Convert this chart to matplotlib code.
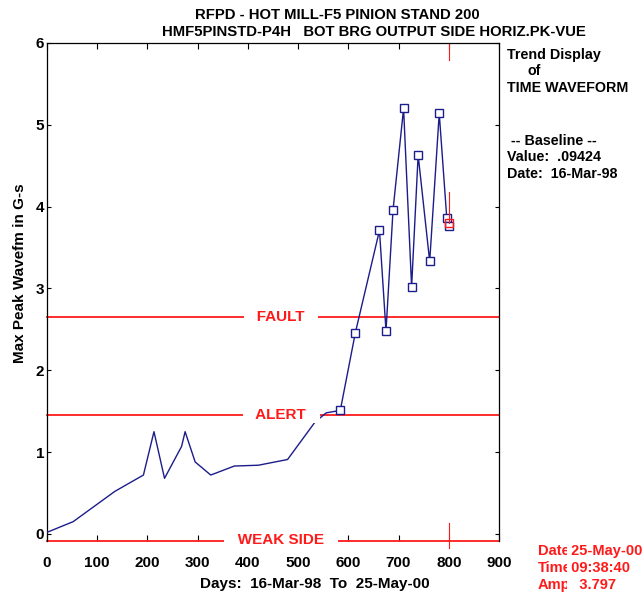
import matplotlib
matplotlib.use("Agg")
import matplotlib.pyplot as plt

plt.rcParams["font.family"] = ["Liberation Sans", "DejaVu Sans"]
plt.rcParams["font.weight"] = "bold"

# Trend values (days since 16-Mar-98, max peak in G-s)
days = [0, 52, 135, 192, 213, 234, 268, 275, 295, 326, 373, 421, 479, 534, 556,
        584, 614, 662, 675, 689, 710, 726, 739, 762, 781, 796, 801]
amps = [0.02, 0.15, 0.52, 0.72, 1.25, 0.68, 1.07, 1.25, 0.88, 0.72, 0.83, 0.84,
        0.91, 1.37, 1.48, 1.51, 2.46, 3.71, 2.48, 3.96, 5.20, 3.02, 4.63, 3.33,
        5.14, 3.86, 3.76]
first_marked = 15  # points from here on carry a marker

alarm_names = ["FAULT", "ALERT", "WEAK SIDE"]
alarm_levels = [2.65, 1.45, -0.08]

cursor_day = 801
cursor_amp = 3.797

navy = "#1c1c8a"
red = "#ff1a1a"

fig = plt.figure(figsize=(6.44, 5.96), dpi=100)
ax = fig.add_axes([47 / 644, 1 - 540.5 / 596, 452 / 644, 497.5 / 596])

ax.plot(days, amps, color=navy, lw=1.0, zorder=3)
ax.plot(days[first_marked:], amps[first_marked:], ls="none", marker="s",
        ms=5.5, mfc="white", mec=navy, mew=1.0, zorder=4)

for name, level in zip(alarm_names, alarm_levels):
    ax.axhline(level, color=red, lw=1.3, zorder=2, clip_on=False)
    ax.text(466, level, "   " + name + "   ", color=red, fontsize=11,
            fontweight="bold", ha="center", va="center", zorder=5,
            bbox=dict(boxstyle="square,pad=0.05", fc="white", ec="none"))

# cursor marks
ax.plot([cursor_day, cursor_day], [6, 5.79], color=red, lw=0.8, clip_on=False)
ax.plot([cursor_day, cursor_day], [cursor_amp + 0.38, cursor_amp], color=red,
        lw=0.8, zorder=4)
ax.plot([cursor_day, cursor_day], [0.13, -0.17], color=red, lw=0.8, clip_on=False)
ax.plot([cursor_day], [cursor_amp], ls="none", marker="s", ms=5.5, mfc="none",
        mec=red, mew=1.0, zorder=5)

ax.set_xlim(0, 900)
ax.set_ylim(-0.08, 6)
ax.set_xticks(range(0, 901, 100))
ax.set_yticks(range(0, 7))
ax.tick_params(axis="x", direction="in", length=4, top=True, pad=11,
               labelsize=11, width=0.8)
ax.tick_params(axis="y", direction="in", length=3, right=True, pad=2,
               labelsize=11, width=0.8)
for s in ax.spines.values():
    s.set_linewidth(0.9)
ax.spines["bottom"].set_visible(False)

fig.text(337 / 644, 1 - 15 / 596, "RFPD - HOT MILL-F5 PINION STAND 200",
         ha="center", va="center", fontsize=10.75, fontweight="bold")
fig.text(374 / 644, 1 - 32 / 596, "HMF5PINSTD-P4H   BOT BRG OUTPUT SIDE HORIZ.PK-VUE",
         ha="center", va="center", fontsize=10.75, fontweight="bold")

fig.text(20 / 644, 1 - 273 / 596, "Max Peak Wavefm in G-s", rotation=90,
         ha="center", va="center", fontsize=11, fontweight="bold")
fig.text(315 / 644, 1 - 584 / 596, "Days:  16-Mar-98  To  25-May-00",
         ha="center", va="center", fontsize=11, fontweight="bold")

side = [("Trend Display", 507, 55), ("of", 527, 71), ("TIME WAVEFORM", 507, 88),
        (" -- Baseline --", 507, 141), ("Value:  .09424", 507, 157),
        ("Date:  16-Mar-98", 507, 174)]
for txt, px, py in side:
    fig.text(px / 644, 1 - py / 596, txt, ha="left", va="center",
             fontsize=10.3, fontweight="bold")

# cursor readout: the value boxes cover the end of the labels, as in the original
cursor_info = [("Date", " 25-May-00", 551), ("Time", " 09:38:40", 568),
               ("Amp", "   3.797", 585)]
for lab, val, py in cursor_info:
    fig.text(538 / 644, 1 - py / 596, lab, ha="left", va="center",
             fontsize=10.5, fontweight="bold", color=red)
    fig.text(567 / 644, 1 - py / 596, val, ha="left", va="center",
             fontsize=10.5, fontweight="bold", color=red,
             bbox=dict(boxstyle="square,pad=0.0", fc="white", ec="none"))

fig.savefig("out.png", dpi=100)
